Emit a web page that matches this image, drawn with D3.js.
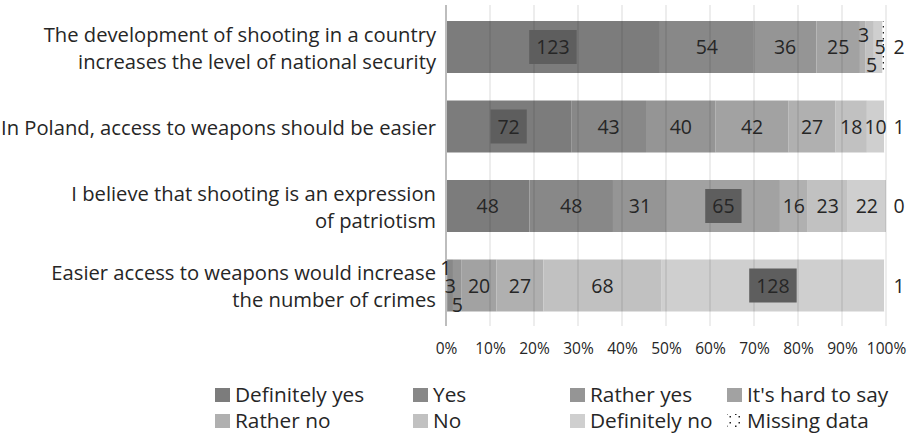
<!DOCTYPE html>
<html>
<head>
<meta charset="utf-8">
<script src="https://cdn.jsdelivr.net/npm/d3@7"></script>
<style>
  html, body { margin: 0; padding: 0; background: #fff; }
  svg { display: block; font-family: "Open Sans", "Noto Sans", sans-serif; }
</style>
</head>
<body>
<svg id="chart" width="911" height="436"></svg>
<script>
// Survey statements (two-line labels split with "\n")
const categories = [
  "The development of shooting in a country\nincreases the level of national security",
  "In Poland, access to weapons should be easier",
  "I believe that shooting is an expression\nof patriotism",
  "Easier access to weapons would increase\nthe number of crimes"
];

// Answer counts per statement
const definitelyYes = [123, 72, 48, 1];
const yes           = [54, 43, 48, 3];
const ratherYes     = [36, 40, 31, 5];
const hardToSay     = [25, 42, 65, 20];
const ratherNo      = [3, 27, 16, 27];
const no            = [5, 18, 23, 68];
const definitelyNo  = [5, 10, 22, 128];
const missingData   = [2, 1, 0, 1];

const seriesNames = ["Definitely yes", "Yes", "Rather yes", "It's hard to say",
                     "Rather no", "No", "Definitely no", "Missing data"];
const tickValues = [0, 10, 20, 30, 40, 50, 60, 70, 80, 90, 100];
const tickLabels = ["0%", "10%", "20%", "30%", "40%", "50%", "60%", "70%", "80%", "90%", "100%"];

// Styling
const seriesColors = ["#7c7c7c", "#888888", "#959595", "#a2a2a2",
                      "#b0b0b0", "#c1c1c1", "#cfcfcf", "url(#dots)"];
const textColor = "#262626";

const seriesValues = [definitelyYes, yes, ratherYes, hardToSay,
                      ratherNo, no, definitelyNo, missingData];

// Rows of percentages for the stack
const rows = categories.map((c, i) => {
  const r = { category: c };
  const total = d3.sum(seriesValues, s => s[i]);
  seriesNames.forEach((n, k) => { r[n] = seriesValues[k][i] / total * 100; });
  r.counts = seriesValues.map(s => s[i]);
  return r;
});

const svg = d3.select("#chart");

// Sparse dot fill for the missing-data series
const defs = svg.append("defs");
const pat = defs.append("pattern").attr("id", "dots")
  .attr("patternUnits", "userSpaceOnUse").attr("width", 9).attr("height", 12);
pat.append("rect").attr("width", 9).attr("height", 12).attr("fill", "#fff");
[[0.5, 2], [0.5, 8], [6, 5.5]].forEach(p => {
  pat.append("rect").attr("x", p[0]).attr("y", p[1]).attr("width", 1.5).attr("height", 1.5)
    .attr("fill", "#222");
});

const x = d3.scaleLinear().domain([0, 100]).range([446, 886]);
const y = d3.scaleBand().domain(categories).range([7.25, 325.25])
  .paddingInner(0.346).paddingOuter(0.173);

const stack = d3.stack().keys(seriesNames);
const stacked = stack(rows);

// Bars
const layers = svg.append("g").selectAll("g").data(stacked).join("g")
  .attr("fill", (d, i) => seriesColors[i]);
layers.selectAll("rect").data(d => d).join("rect")
  .attr("x", d => x(d[0]))
  .attr("y", d => y(d.data.category))
  .attr("width", d => Math.max(0, x(d[1]) - x(d[0])))
  .attr("height", y.bandwidth());

// Vertical gridlines drawn over the bars
const grid = svg.append("g");
grid.selectAll("line").data(tickValues.slice(1)).join("line")
  .attr("x1", d => x(d)).attr("x2", d => x(d))
  .attr("y1", 5).attr("y2", 326)
  .attr("stroke", "#000").attr("stroke-opacity", 0.14).attr("stroke-width", 1);

// Category axis line
svg.append("line").attr("x1", x(0)).attr("x2", x(0)).attr("y1", 5).attr("y2", 326)
  .attr("stroke", "#bdbdbd").attr("stroke-width", 2);

// X axis tick labels
const xAxis = d3.axisBottom(x).tickValues(tickValues)
  .tickFormat((d, i) => tickLabels[i]).tickSize(0).tickPadding(0);
const xg = svg.append("g").attr("transform", "translate(0,343)").call(xAxis);
xg.select(".domain").remove();
xg.selectAll("text").attr("font-size", 15.5).attr("fill", textColor)
  .attr("font-family", "'Open Sans', sans-serif").attr("dy", "0.71em");

// Category labels
const catG = svg.append("g");
categories.forEach(c => {
  const lines = c.split("\n");
  const cy = y(c) + y.bandwidth() / 2;
  const lh = 27;
  const t = catG.append("text").attr("text-anchor", "end")
    .attr("font-size", 20.2).attr("fill", textColor);
  lines.forEach((ln, j) => {
    t.append("tspan").attr("x", 436)
      .attr("y", cy + (j - (lines.length - 1) / 2) * lh + 1)
      .attr("dy", "0.36em").text(ln);
  });
});

// Nudges for labels of thin segments: [row, series, dx, dy]
const nudges = [
  [0, 4, 1, -12], [0, 5, 2, 18], [0, 6, 2, 0],
  [3, 0, -1, -18], [3, 1, 0, 0], [3, 2, 0, 19]
];
function nudge(ri, si) {
  const n = nudges.find(v => v[0] === ri && v[1] === si);
  return n ? [n[2], n[3]] : [0, 0];
}

// Value labels
const lbl = svg.append("g").attr("font-size", 19.5).attr("fill", textColor);
stacked.forEach((layer, si) => {
  layer.forEach((d, ri) => {
    const count = d.data.counts[si];
    const cy = y(d.data.category) + y.bandwidth() / 2;
    if (si === seriesNames.length - 1) {
      // missing-data counts sit to the right of the bar
      lbl.append("text").attr("x", 899).attr("y", cy).attr("dy", "0.36em")
        .attr("text-anchor", "middle").text(count);
      return;
    }
    const [dx, dy] = nudge(ri, si);
    const cx = (x(d[0]) + x(d[1])) / 2 + dx;
    const isMax = count === d3.max(d.data.counts);
    if (isMax) {
      const tmp = lbl.append("text").text(count);
      const w = tmp.node().getComputedTextLength();
      tmp.remove();
      lbl.append("rect").attr("x", cx - w / 2 - 7).attr("y", cy - 17)
        .attr("width", w + 14).attr("height", 34).attr("fill", "#5e5e5e");
    }
    lbl.append("text").attr("x", cx).attr("y", cy + dy).attr("dy", "0.36em")
      .attr("text-anchor", "middle").text(count);
  });
});

// Legend
const legendCols = [215, 413, 570, 727];
const legendRows = [395, 421];
const leg = svg.append("g").attr("font-size", 20.8).attr("fill", textColor);
seriesNames.forEach((n, i) => {
  const lx = legendCols[i % 4], ly = legendRows[Math.floor(i / 4)];
  leg.append("rect").attr("x", lx).attr("y", ly - 7).attr("width", 15).attr("height", 14)
    .attr("fill", seriesColors[i]);
  leg.append("text").attr("x", lx + 20).attr("y", ly).attr("dy", "0.36em").text(n);
});
</script>
</body>
</html>
